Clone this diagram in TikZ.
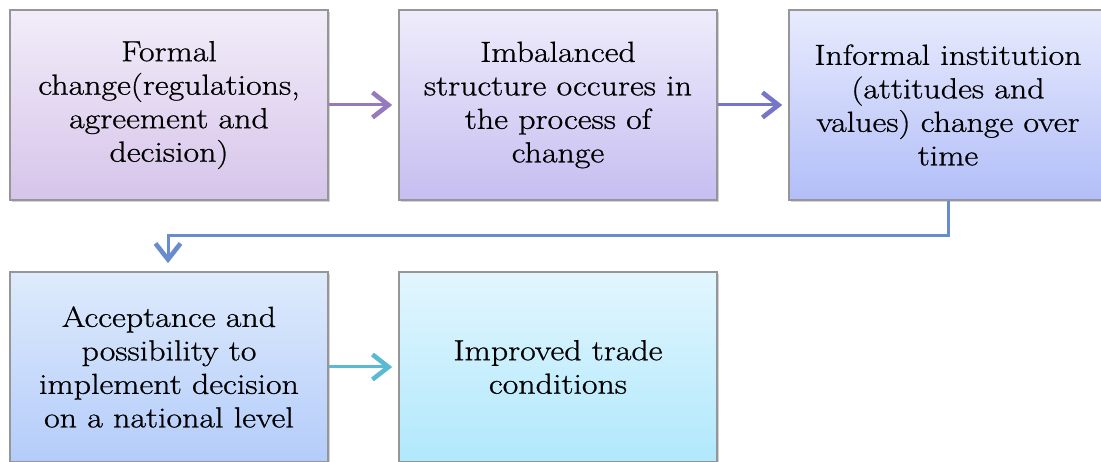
\documentclass[tikz,border=0pt]{standalone}
\usepackage{fontspec}
\setmainfont{Latin Modern Roman}[FakeStretch=1.17, FakeBold=0.8]
\usetikzlibrary{arrows.meta,shadows}
\definecolor{boxline}{RGB}{150,150,152}
\definecolor{aTop}{RGB}{242,237,249}\definecolor{aBot}{RGB}{214,196,234}
\definecolor{bTop}{RGB}{238,236,251}\definecolor{bBot}{RGB}{198,190,241}
\definecolor{cTop}{RGB}{232,235,253}\definecolor{cBot}{RGB}{178,190,248}
\definecolor{dTop}{RGB}{222,235,252}\definecolor{dBot}{RGB}{180,204,250}
\definecolor{eTop}{RGB}{226,246,254}\definecolor{eBot}{RGB}{176,232,252}
\definecolor{arA}{RGB}{150,122,190}
\definecolor{arB}{RGB}{118,118,200}
\definecolor{arC}{RGB}{104,140,204}
\definecolor{arD}{RGB}{90,186,212}
\begin{document}
\begin{tikzpicture}[x=1pt,y=-1pt,
  stepbox/.style={draw=boxline, line width=1.6pt, minimum width=318pt,
    minimum height=190pt, align=center, inner sep=0pt,
    font=\fontsize{29}{33.5}\selectfont,
    drop shadow={shadow xshift=1.5pt, shadow yshift=-2.5pt, opacity=0.35}},
  flow/.style={line width=3pt,
    -{Straight Barb[length=16pt,width=25pt,line width=4.6pt]}}
]
\useasboundingbox (0,0) rectangle (1101,462);
\clip (0,0) rectangle (1101,462);

% first row
\node[stepbox, top color=aTop, bottom color=aBot] (formal) at (169,105)
  {Formal\\change(regulations,\\agreement and\\decision)};
\node[stepbox, top color=bTop, bottom color=bBot] (imbal) at (558,105)
  {Imbalanced\\structure occures in\\the process of\\change};
\node[stepbox, top color=cTop, bottom color=cBot] (informal) at (948,105)
  {Informal institution\\(attitudes and\\values) change over\\time};

% second row
\node[stepbox, top color=dTop, bottom color=dBot] (accept) at (169,367)
  {Acceptance and\\possibility to\\implement decision\\on a national level};
\node[stepbox, top color=eTop, bottom color=eBot] (trade) at (558,367)
  {Improved trade\\conditions};

% connectors
\draw[flow, arA] (formal.east) -- ([xshift=-6pt]imbal.west);
\draw[flow, arB] (imbal.east) -- ([xshift=-6pt]informal.west);
\draw[flow, arC] (informal.south) |- (168,236) -- ([yshift=8pt]accept.north -| 168,0);
\draw[flow, arD] (accept.east) -- ([xshift=-6pt]trade.west);
\end{tikzpicture}
\end{document}
